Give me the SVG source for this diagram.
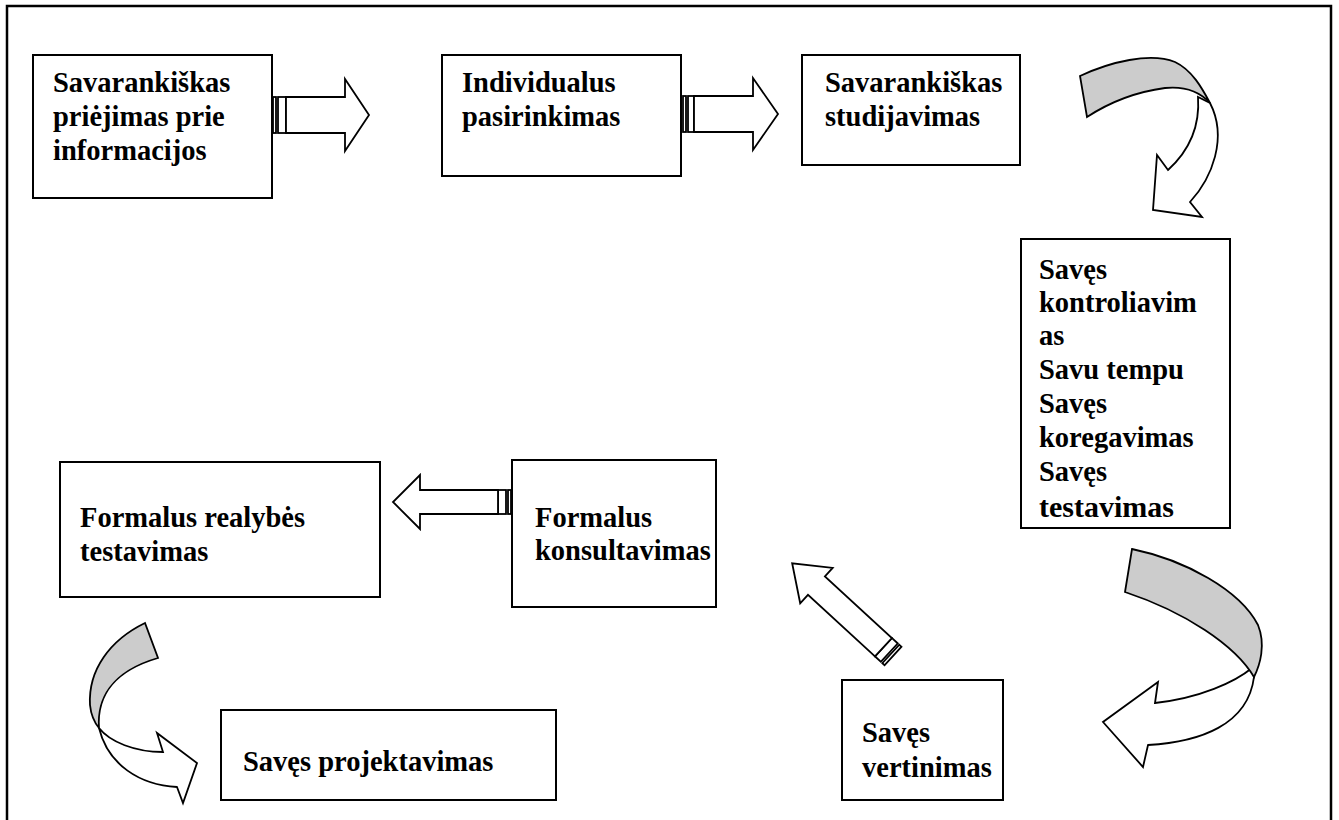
<svg xmlns="http://www.w3.org/2000/svg" width="1339" height="820" viewBox="0 0 1339 820">
<style>
.box{fill:#fff;stroke:#000;stroke-width:2}
.t{font-family:"Liberation Serif","Times New Roman",serif;font-weight:bold;font-size:28.5px;fill:#000}
.ar{fill:#fff;stroke:#000;stroke-width:1.8;stroke-linejoin:miter}
.band{fill:#cccccc;stroke:#000;stroke-width:1.8}
</style>
<rect width="1339" height="820" fill="#fff"/>
<path d="M7,821 V6 H1331 V821" fill="none" stroke="#000" stroke-width="2.5"/>

<g id="connectors">
  <g id="arrow1">
    <rect class="ar" x="273" y="97" width="3" height="36"/>
    <rect class="ar" x="278" y="97" width="8" height="36"/>
    <polygon class="ar" points="286,97 345,97 345,79 369,115 345,151 345,133 286,133"/>
  </g>
  <g id="arrow2">
    <rect class="ar" x="683" y="96" width="3" height="36"/>
    <rect class="ar" x="688" y="96" width="6" height="36"/>
    <polygon class="ar" points="694,96 753,96 753,78 778,114 753,150 753,132 694,132"/>
  </g>
  <g id="arrow3">
    <path class="ar" d="M1198,97 C1200,125 1190,150 1168,170 L1157,155 L1153,210 L1202,217 L1190,202 C1212,178 1228,138 1210,103 Z"/>
    <path class="band" d="M1080,76 C1110,62 1150,52 1175,62 C1192,70 1202,88 1210,103 C1200,92 1185,86 1165,88 C1135,92 1110,102 1087,117 Z"/>
  </g>
  <g id="arrow4">
    <path class="ar" d="M1252,668 C1235,682 1200,698 1155,703 L1158,682 L1103,722 L1143,767 L1148,745 C1200,742 1248,725 1254,677 Z"/>
    <path class="band" d="M1132,549 C1185,560 1240,590 1258,625 C1266,645 1260,665 1254,677 C1235,645 1185,612 1125,592 Z"/>
  </g>
  <g id="arrow5" transform="translate(893,656) rotate(222.6)">
    <rect class="ar" x="0" y="-12.5" width="3" height="25"/>
    <rect class="ar" x="5" y="-12.5" width="8" height="25"/>
    <polygon class="ar" points="13,-12.5 104,-12.5 104,-24 137,0 104,24 104,12.5 13,12.5"/>
  </g>
  <g id="arrow6">
    <rect class="ar" x="508" y="490" width="3" height="24"/>
    <rect class="ar" x="498" y="490" width="8" height="24"/>
    <polygon class="ar" points="498,490 420,490 420,475 393,502 420,529 420,514 498,514"/>
  </g>
  <g id="arrow7">
    <path class="ar" d="M99,728 C110,742 135,752 163,752 L157,733 L197,763 L183,803 L177,787 C140,785 108,765 99,728 Z"/>
    <path class="band" d="M145,623 C110,640 88,670 90,705 C91,715 94,722 99,728 C97,700 110,672 158,658 Z"/>
  </g>
</g>

<g id="n1">
  <rect class="box" x="33" y="55" width="239" height="143"/>
  <text class="t" x="53" y="92">Savarankiškas</text>
  <text class="t" x="53" y="126">priėjimas prie</text>
  <text class="t" x="53" y="160">informacijos</text>
</g>
<g id="n2">
  <rect class="box" x="442" y="55" width="239" height="121"/>
  <text class="t" x="462" y="92">Individualus</text>
  <text class="t" x="462" y="126">pasirinkimas</text>
</g>
<g id="n3">
  <rect class="box" x="802" y="55" width="218" height="110"/>
  <text class="t" x="825" y="92">Savarankiškas</text>
  <text class="t" x="825" y="126">studijavimas</text>
</g>
<g id="n4">
  <rect class="box" x="1021" y="239" width="209" height="289"/>
  <text class="t" x="1039" y="279">Savęs</text>
  <text class="t" x="1039" y="312">kontroliavim</text>
  <text class="t" x="1039" y="345">as</text>
  <text class="t" x="1039" y="379">Savu tempu</text>
  <text class="t" x="1039" y="413">Savęs</text>
  <text class="t" x="1039" y="447">koregavimas</text>
  <text class="t" x="1039" y="481">Savęs</text>
  <text class="t" x="1039" y="517" style="font-size:30px">testavimas</text>
</g>
<g id="n5">
  <rect class="box" x="512" y="460" width="204" height="147"/>
  <text class="t" x="535" y="527">Formalus</text>
  <text class="t" x="535" y="560">konsultavimas</text>
</g>
<g id="n6">
  <rect class="box" x="60" y="462" width="320" height="135"/>
  <text class="t" x="80" y="527">Formalus realybės</text>
  <text class="t" x="80" y="561">testavimas</text>
</g>
<g id="n7">
  <rect class="box" x="221" y="710" width="335" height="90"/>
  <text class="t" x="243" y="771">Savęs projektavimas</text>
</g>
<g id="n8">
  <rect class="box" x="842" y="680" width="161" height="120"/>
  <text class="t" x="862" y="742">Savęs</text>
  <text class="t" x="862" y="777">vertinimas</text>
</g>
</svg>
